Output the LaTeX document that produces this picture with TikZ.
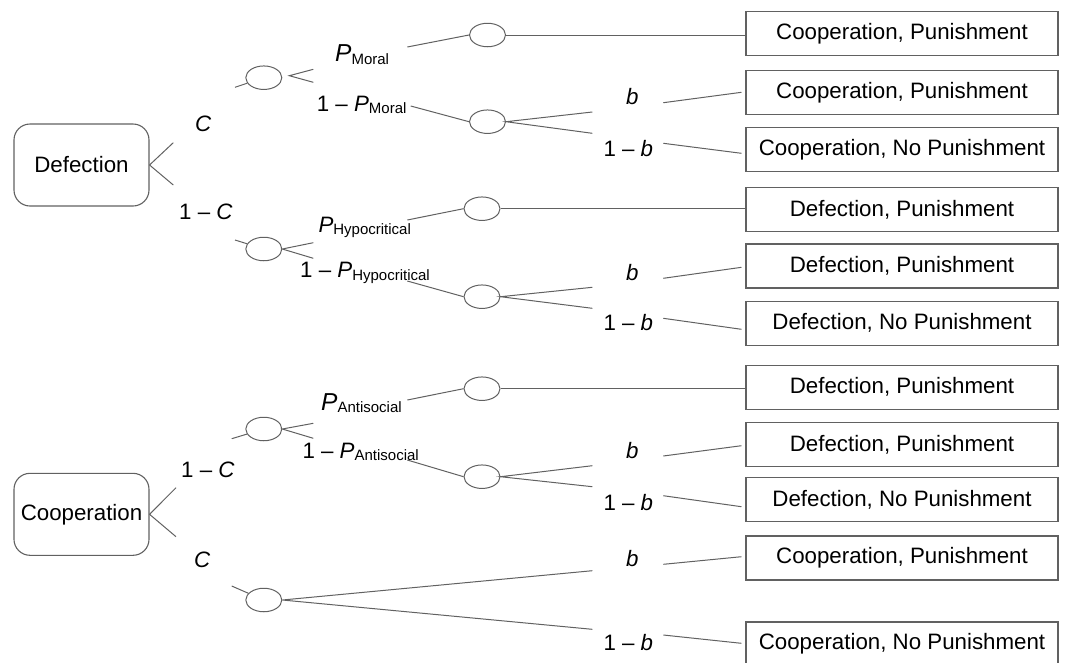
\documentclass[tikz,border=0pt]{standalone}
\usepackage{fontspec}
\setmainfont{Liberation Sans}
\usetikzlibrary{shapes.geometric,calc}
\newcommand\lowtxt[1]{\raisebox{-2.5pt}{\fontsize{15}{15}\selectfont #1}}
\begin{document}
\begin{tikzpicture}[x=1pt,y=-1pt,
  conn/.style={draw=black!62, line width=1pt},
  outbox/.style={draw=black!62, line width=1.1pt, minimum width=312pt, minimum height=44pt, inner sep=0pt, font=\fontsize{22.3}{26}\selectfont},
  rootbox/.style={draw=black!62, line width=1.1pt, rounded corners=16pt, minimum width=135pt, minimum height=82pt, inner sep=0pt, font=\fontsize{22.3}{26}\selectfont},
  chance/.style={ellipse, draw=black!62, line width=1pt, minimum width=36pt, minimum height=23.5pt, inner sep=0pt},
  lbl/.style={anchor=base west, inner sep=0pt, font=\fontsize{22.3}{26}\selectfont},
  biglbl/.style={anchor=base west, inner sep=0pt, font=\fontsize{24.5}{28}\selectfont},
]
\useasboundingbox (0,0) rectangle (1070,662);

% root boxes
\node[rootbox] (def) at (81.5,165) {Defection};
\node[rootbox] (coop) at (81.5,514.3) {Cooperation};

% outcome boxes
\node[outbox] (b1) at (902,33.5) {Cooperation, Punishment};
\node[outbox] (b2) at (902,92.9) {Cooperation, Punishment};
\node[outbox] (b3) at (902,149.9) {Cooperation, No Punishment};
\node[outbox] (b4) at (902,209.9) {Defection, Punishment};
\node[outbox] (b5) at (902,266) {Defection, Punishment};
\node[outbox] (b6) at (902,323.2) {Defection, No Punishment};
\node[outbox] (b7) at (902,387.2) {Defection, Punishment};
\node[outbox] (b8) at (902,444.7) {Defection, Punishment};
\node[outbox] (b9) at (902,499.7) {Defection, No Punishment};
\node[outbox] (b10) at (902,558) {Cooperation, Punishment};
\node[outbox] (b11) at (902,644) {Cooperation, No Punishment};

% chance nodes
\node[chance] (e1) at (263.8,77.7) {};
\node[chance] (e2) at (263.8,249) {};
\node[chance] (e3) at (263.8,429) {};
\node[chance] (e4) at (263.8,600) {};
\node[chance] (f1) at (487.5,35) {};
\node[chance] (f2) at (487.5,121.7) {};
\node[chance] (f3) at (482,208.7) {};
\node[chance] (f4) at (482,296.7) {};
\node[chance] (f5) at (482,388.7) {};
\node[chance] (f6) at (482,476.7) {};

% labels
\node[lbl] (lC1) at (195,131) {\textit{C}};
\node[lbl] (l1C1) at (179,219) {1 -- \textit{C}};
\node[lbl] (l1C2) at (181,477.7) {1 -- \textit{C}};
\node[lbl] (lC2) at (194,567.3) {\textit{C}};
\node[biglbl] (lPM) at (335,61.7) {\textit{P}\lowtxt{Moral}};
\node[lbl] (l1PM) at (316.7,111) {1 -- \textit{P}\lowtxt{Moral}};
\node[lbl] (lPH) at (318.3,232.3) {\textit{P}\lowtxt{Hypocritical}};
\node[lbl] (l1PH) at (300,277.7) {1 -- \textit{P}\lowtxt{Hypocritical}};
\node[biglbl] (lPA) at (321,410) {\textit{P}\lowtxt{Antisocial}};
\node[lbl] (l1PA) at (302.3,458.3) {1 -- \textit{P}\lowtxt{Antisocial}};
\node[lbl] (lb1) at (626,104.3) {\textit{b}};
\node[lbl] (l1b1) at (603.3,156.7) {1 -- \textit{b}};
\node[lbl] (lb2) at (626,280.7) {\textit{b}};
\node[lbl] (l1b2) at (603.3,330) {1 -- \textit{b}};
\node[lbl] (lb3) at (626,458.3) {\textit{b}};
\node[lbl] (l1b3) at (603.3,510) {1 -- \textit{b}};
\node[lbl] (lb4) at (626,566.7) {\textit{b}};
\node[lbl] (l1b4) at (603.3,650) {1 -- \textit{b}};

% free ends
\coordinate (dA) at (173.3,142.7);
\coordinate (dB) at (173.3,185);
\coordinate (cA) at (176,487.7);
\coordinate (cB) at (176,536.7);
\coordinate (i1) at (235,87.3);
\coordinate (i2) at (235,240);
\coordinate (i3) at (231.7,438.7);
\coordinate (i4) at (231.7,586);
\coordinate (v1) at (289.3,75.7);
\coordinate (s1a) at (313.3,69.3);
\coordinate (s1b) at (313.3,82.3);
\coordinate (s2a) at (313.3,242.7);
\coordinate (s2b) at (313.3,258.3);
\coordinate (s3a) at (313.3,423.3);
\coordinate (s3b) at (313.3,438.3);
\coordinate (g1) at (407.3,47);
\coordinate (g2) at (410.7,106);
\coordinate (g3) at (407.3,220);
\coordinate (g4) at (407.3,281);
\coordinate (g5) at (407.3,400);
\coordinate (g6) at (407.3,460);
\coordinate (t2a) at (592.3,112);
\coordinate (t2b) at (592.3,133.3);
\coordinate (t4a) at (592.3,287.3);
\coordinate (t4b) at (592.3,308.3);
\coordinate (t6a) at (592.3,465.7);
\coordinate (t6b) at (592.3,486.7);
\coordinate (t7a) at (592.3,570.7);
\coordinate (t7b) at (592.3,629.3);
\coordinate (h1) at (663.3,102.7);
\coordinate (h2) at (663.3,143.3);
\coordinate (h3) at (663.3,278.3);
\coordinate (h4) at (663.3,318.3);
\coordinate (h5) at (663.3,456);
\coordinate (h6) at (663.3,495.7);
\coordinate (h7) at (663.3,564.3);
\coordinate (h8) at (663.3,635);

% root branches
\draw[conn] (dA) -- (def.east) -- (dB);
\draw[conn] (cA) -- (coop.east) -- (cB);

% into first-level chance nodes
\draw[conn] (i1) -- (e1);
\draw[conn] (i2) -- (e2);
\draw[conn] (i3) -- (e3);
\draw[conn] (i4) -- (e4);

% first-level splits
\draw[conn] (s1a) -- (v1) -- (s1b);
\draw[conn] (s2a) -- (e2.east) -- (s2b);
\draw[conn] (s3a) -- (e3.east) -- (s3b);
\draw[conn] (t7a) -- (e4.east) -- (t7b);

% into second-level chance nodes
\draw[conn] (g1) -- (f1.west);
\draw[conn] (g2) -- (f2.west);
\draw[conn] (g3) -- (f3.west);
\draw[conn] (g4) -- (f4.west);
\draw[conn] (g5) -- (f5.west);
\draw[conn] (g6) -- (f6.west);

% direct outcomes
\draw[conn] (f1.east) -- (f1.east -| b1.west);
\draw[conn] (f3.east) -- (f3.east -| b4.west);
\draw[conn] (f5.east) -- (f5.east -| b7.west);

% second-level splits
\draw[conn] (t2a) -- (f2.east) -- (t2b);
\draw[conn] (t4a) -- (f4.east) -- (t4b);
\draw[conn] (t6a) -- (f6.east) -- (t6b);

% b / 1-b to outcome boxes
\draw[conn] (h1) -- ([xshift=-4pt,yshift=0.6pt]b2.west);
\draw[conn] (h2) -- ([xshift=-4pt,yshift=-3.4pt]b3.west);
\draw[conn] (h3) -- ([xshift=-4pt,yshift=-1.3pt]b5.west);
\draw[conn] (h4) -- ([xshift=-4pt,yshift=-6.1pt]b6.west);
\draw[conn] (h5) -- ([xshift=-4pt,yshift=-1pt]b8.west);
\draw[conn] (h6) -- ([xshift=-4pt,yshift=-7pt]b9.west);
\draw[conn] (h7) -- ([xshift=-4pt,yshift=1.3pt]b10.west);
\draw[conn] (h8) -- ([xshift=-4pt,yshift=0.7pt]b11.west);
\end{tikzpicture}
\end{document}
